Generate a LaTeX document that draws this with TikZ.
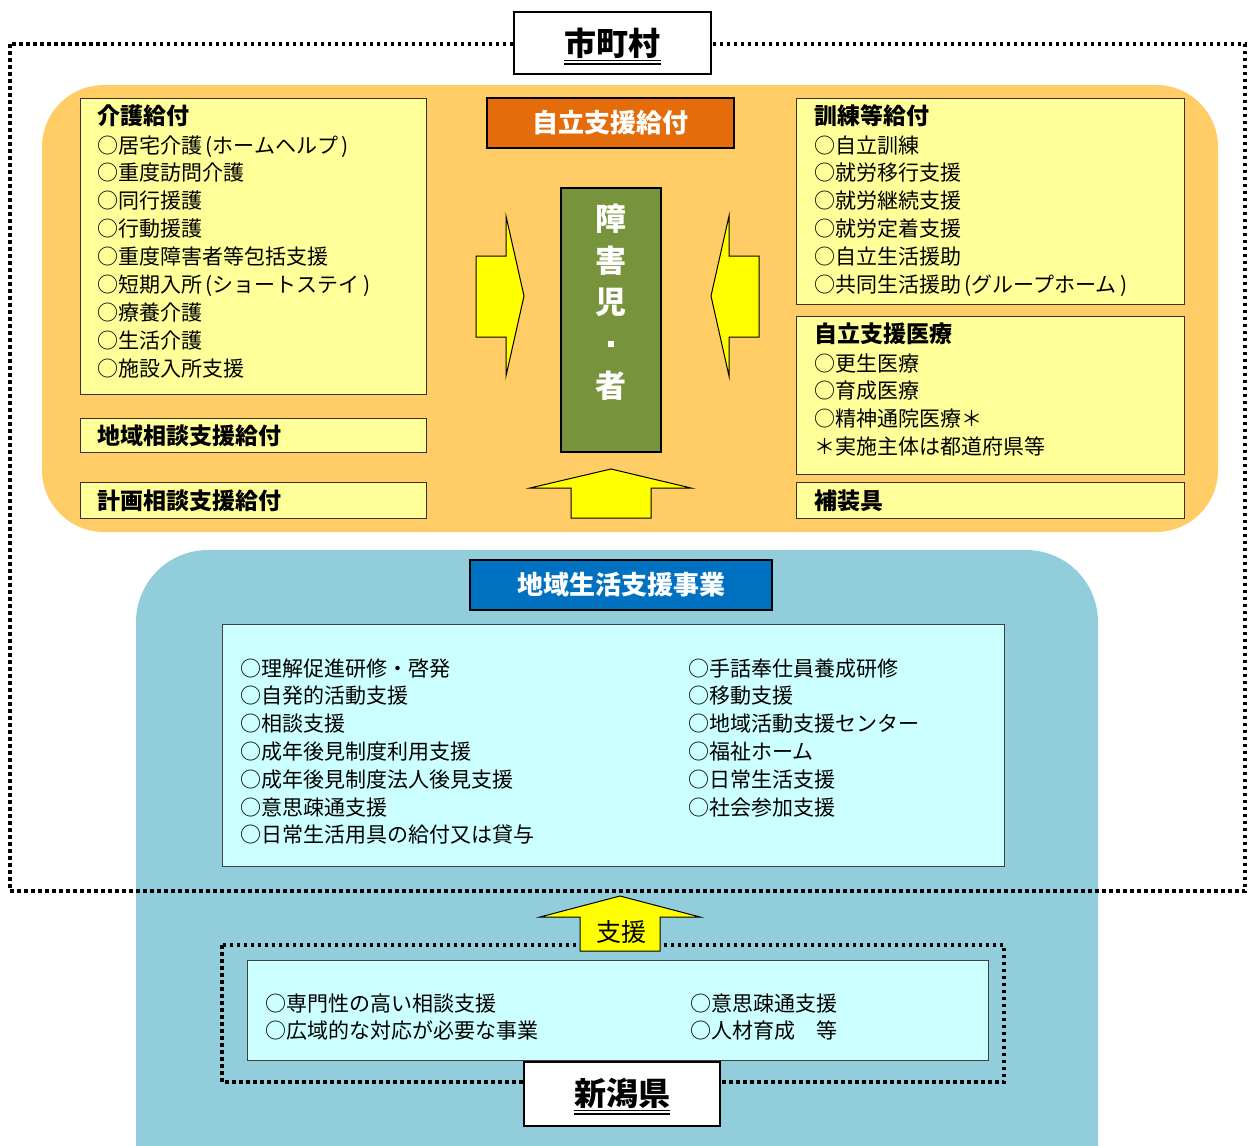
\documentclass[tikz,border=0pt]{standalone}
\usepackage{fontspec}
\setmainfont{Noto Sans CJK JP}
\definecolor{orbg}{HTML}{FFCC66}
\definecolor{yelbox}{HTML}{FFFF99}
\definecolor{bluebg}{HTML}{92CDDC}
\definecolor{cyanbox}{HTML}{CCFFFF}
\definecolor{orhead}{HTML}{E46C0A}
\definecolor{greenbox}{HTML}{77933C}
\definecolor{bluehead}{HTML}{0070C0}
\definecolor{arrowyel}{HTML}{FFFF00}
\tikzset{
  dotline/.style={line width=3.5pt, dash pattern=on 3.5pt off 3.5pt},
  ybox/.style={draw=black!80, line width=0.8pt, fill=yelbox, inner sep=0pt},
  cbox/.style={draw=black!75, line width=1pt, fill=cyanbox, inner sep=0pt},
  wbox/.style={draw=black, line width=1.5pt, fill=white, inner sep=0pt},
  hbox/.style={draw=black, line width=1.2pt, inner sep=0pt, text=white, font=\fontsize{26}{28}\selectfont\bfseries},
  yarrow/.style={draw=black, line width=1pt, fill=arrowyel},
  head/.style={anchor=base west, inner sep=0pt, font=\fontsize{23}{28}\selectfont\bfseries},
  item/.style={anchor=base west, inner sep=0pt, font=\fontsize{21}{28}\selectfont},
  place/.style={inner sep=0pt, font=\fontsize{32}{34}\selectfont\bfseries},
  vchar/.style={inner sep=0pt, text=white, font=\fontsize{31}{32}\selectfont\bfseries}
}
\begin{document}
\begin{tikzpicture}[x=1pt,y=-1pt]
\useasboundingbox (0,0) rectangle (1248,1146);
\clip (0,0) rectangle (1248,1146);
% blue region
\fill[bluebg, rounded corners=72pt] (136,550) rectangle (1098,1220);
% orange region
\fill[orbg, rounded corners=62pt] (42,85) rectangle (1218,532);
% outer dotted frame (municipality)
\draw[dotline] (10,44) rectangle (1245,891);
% 市町村 label
\node[wbox, minimum width=197, minimum height=62] (shi) at (612.5,43) {};
\node[place] (shit) at (612.5,43) {市町村};
\draw[line width=1.3pt] ([yshift=-2]shit.south west) -- ([yshift=-2]shit.south east);
\draw[line width=1.3pt] ([yshift=-5.5]shit.south west) -- ([yshift=-5.5]shit.south east);

% left boxes
\node[ybox, minimum width=346, minimum height=296] (kaigo) at (253,246) {};
\node[head] (kaigoh) at (97,124.5) {介護給付};
\foreach \t [count=\i from 0] in {○居宅介護\,(ホームヘルプ\,),○重度訪問介護,○同行援護,○行動援護,○重度障害者等包括支援,○短期入所\,(ショートステイ\,),○療養介護,○生活介護,○施設入所支援}
  \node[item] (kaigo\i) at (97,153+27.9*\i) {\t};
\node[ybox, minimum width=346, minimum height=34] (chiiki) at (253,435) {};
\node[head] (chiikih) at (97,444.5) {地域相談支援給付};
\node[ybox, minimum width=346, minimum height=36] (keikaku) at (253,500) {};
\node[head] (keikakuh) at (97,509.5) {計画相談支援給付};

% center
\node[hbox, fill=orhead, minimum width=247, minimum height=50] (jiritsu) at (610.5,123) {自立支援給付};
\node[draw=black, line width=1.2pt, fill=greenbox, minimum width=100, minimum height=264, inner sep=0pt] (person) at (611,320) {};
\node[vchar] (p1) at (611,219) {障};
\node[vchar] (p2) at (611,261) {害};
\node[vchar] (p3) at (611,302) {児};
\node[fill=white, inner sep=0pt, minimum size=6pt] (p4) at (611,344) {};
\node[vchar] (p5) at (611,386) {者};
% arrows
\draw[yarrow] (476,256) -- (506,256) -- (506,216) -- (524,296) -- (506,376) -- (506,337) -- (476,337) -- cycle;
\draw[yarrow] (759,256) -- (729,256) -- (729,216) -- (711,296) -- (729,376) -- (729,337) -- (759,337) -- cycle;
\draw[yarrow] (571,518) -- (571,488) -- (530,488) -- (611,469) -- (691,488) -- (651,488) -- (651,518) -- cycle;

% right boxes
\node[ybox, minimum width=388, minimum height=206] (kunren) at (990,201) {};
\node[head] (kunrenh) at (814,124.5) {訓練等給付};
\foreach \t [count=\i from 0] in {○自立訓練,○就労移行支援,○就労継続支援,○就労定着支援,○自立生活援助,○共同生活援助\,(グループホーム\,)}
  \node[item] (kunren\i) at (814,153+27.9*\i) {\t};
\node[ybox, minimum width=388, minimum height=158] (iryo) at (990,395) {};
\node[head] (iryoh) at (814,342.5) {自立支援医療};
\foreach \t [count=\i from 0] in {○更生医療,○育成医療,○精神通院医療＊,＊実施主体は都道府県等}
  \node[item] (iryo\i) at (814,371+27.9*\i) {\t};
\node[ybox, minimum width=388, minimum height=36] (hosou) at (990,500) {};
\node[head] (hosouh) at (814,509.5) {補装具};

% community life support
\node[hbox, fill=bluehead, minimum width=302, minimum height=50] (chiikiseikatsu) at (621,585) {地域生活支援事業};
\node[cbox, minimum width=782, minimum height=242] (cyan1) at (613,745) {};
\foreach \t [count=\i from 0] in {○理解促進研修・啓発,○自発的活動支援,○相談支援,○成年後見制度利用支援,○成年後見制度法人後見支援,○意思疎通支援,○日常生活用具の給付又は貸与}
  \node[item] (cl\i) at (240,676+27.8*\i) {\t};
\foreach \t [count=\i from 0] in {○手話奉仕員養成研修,○移動支援,○地域活動支援センター,○福祉ホーム,○日常生活支援,○社会参加支援}
  \node[item] (cr\i) at (688,676+27.8*\i) {\t};

% prefecture
\draw[dotline] (222,945) rectangle (1004,1082);
\node[cbox, minimum width=741, minimum height=100] (cyan2) at (617.5,1010) {};
\node[item] (pl0) at (265,1011) {○専門性の高い相談支援};
\node[item] (pl1) at (265,1038) {○広域的な対応が必要な事業};
\node[item] (pr0) at (690,1011) {○意思疎通支援};
\node[item] (pr1) at (690,1038) {○人材育成　等};
\draw[yarrow] (580,951) -- (580,917) -- (540,917) -- (620,896) -- (700,917) -- (660,917) -- (660,951) -- cycle;
\node[inner sep=0pt, font=\fontsize{25}{26}\selectfont] (shien) at (621,932) {支援};
\node[wbox, minimum width=196, minimum height=64] (ken) at (622,1094) {};
\node[place] (kent) at (622,1093) {新潟県};
\draw[line width=1.3pt] ([yshift=-2]kent.south west) -- ([yshift=-2]kent.south east);
\draw[line width=1.3pt] ([yshift=-5.5]kent.south west) -- ([yshift=-5.5]kent.south east);
\end{tikzpicture}
\end{document}
